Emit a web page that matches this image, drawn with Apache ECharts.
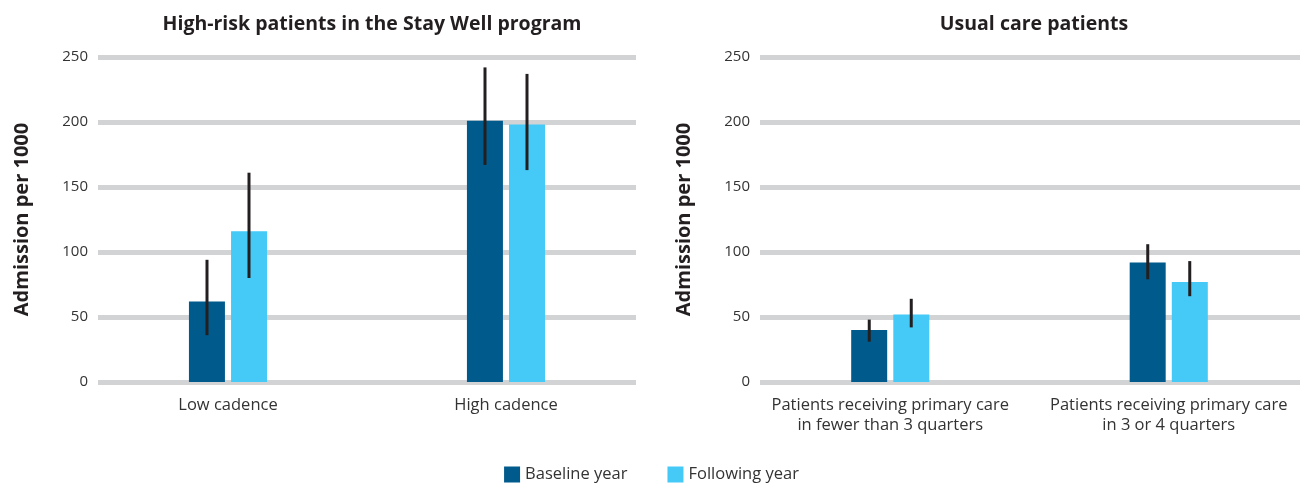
<!DOCTYPE html>
<html>
<head>
<meta charset="utf-8">
<script src="https://cdn.jsdelivr.net/npm/echarts@6/dist/echarts.min.js"></script>
<style>
  html, body { margin: 0; padding: 0; background: #fff; }
  #main { width: 1303px; height: 486px; }
</style>
</head>
<body>
<div id="main"></div>
<script>
// --- data ---
var leftCats = ['Low cadence', 'High cadence'];
var leftBaseline = [62, 201];
var leftBaselineLow = [36, 167];
var leftBaselineHigh = [94, 242];
var leftFollowing = [116, 198];
var leftFollowingLow = [80, 163];
var leftFollowingHigh = [161, 237];

var rightCats = ['Patients receiving primary care\nin fewer than 3 quarters', 'Patients receiving primary care\nin 3 or 4 quarters'];
var rightBaseline = [40, 92];
var rightBaselineLow = [31, 79];
var rightBaselineHigh = [48, 106];
var rightFollowing = [52, 77];
var rightFollowingLow = [42, 66];
var rightFollowingHigh = [64, 93];

var yTicks = [0, 50, 100, 150, 200, 250];

var FONT = 'Open Sans';
var dark = '#005a8c';
var light = '#45c9f6';

function errData(lo, hi) {
	var out = [];
	for (var i = 0; i < lo.length; i++) {
		out.push([i, lo[i], hi[i]]);
	}
	return out;
}

// error bar drawn through the axis scale, shifted to sit on its bar
function errRender(offset) {
	return function (params, api) {
		var a = api.coord([api.value(0), api.value(1)]);
		var b = api.coord([api.value(0), api.value(2)]);
		return {
			type: 'line',
			shape: { x1: a[0] + offset, y1: a[1], x2: b[0] + offset, y2: b[1] },
			style: { stroke: '#231f20', lineWidth: 3 }
		};
	};
}

function barSeries(name, data, idx) {
	return {
		name: name,
		type: 'bar',
		xAxisIndex: idx,
		yAxisIndex: idx,
		barWidth: 36,
		barGap: '17%',
		itemStyle: { color: name == 'Baseline year' ? dark : light },
		data: data,
		z: 3
	};
}

function errSeries(lo, hi, idx, offset) {
	return {
		name: 'err',
		type: 'custom',
		xAxisIndex: idx,
		yAxisIndex: idx,
		renderItem: errRender(offset),
		encode: { x: 0, y: [1, 2] },
		data: errData(lo, hi),
		z: 5
	};
}

var yMin = yTicks[0], yMax = yTicks[yTicks.length - 1];

function deco(idx) {
	return {
		type: 'value', gridIndex: idx, min: yMin, max: yMax, interval: 50,
		name: 'Admission per 1000', nameLocation: 'middle', nameGap: 66,
		nameTextStyle: { fontFamily: FONT, fontSize: 20, fontWeight: 'bold', color: '#231f20' },
		axisLine: { show: false }, axisTick: { show: false },
		axisLabel: { margin: 10, fontFamily: FONT, fontSize: 15, color: '#333' },
		splitLine: { show: true, lineStyle: { color: '#d2d3d5', width: 5 } }
	};
}

// grids 0,1 hold the bars; grids 2,3 only draw the gridlines and labels
var option = {
	animation: false,
	title: [{
		text: 'High-risk patients in the Stay Well program',
		left: 367, top: 9, textAlign: 'center',
		textStyle: { fontFamily: FONT, fontSize: 19.5, fontWeight: 'bold', color: '#231f20' }
	}, {
		text: 'Usual care patients',
		left: 1029, top: 9, textAlign: 'center',
		textStyle: { fontFamily: FONT, fontSize: 19.5, fontWeight: 'bold', color: '#231f20' }
	}],
	legend: {
		data: ['Baseline year', 'Following year'],
		left: 'center',
		top: 461,
		icon: 'rect',
		itemWidth: 16,
		itemHeight: 16,
		itemGap: 40,
		textStyle: { fontFamily: FONT, fontSize: 16.5, color: '#333' }
	},
	grid: [
		{ left: 89, width: 556, top: 57, height: 325, outerBoundsMode: 'none' },
		{ left: 751, width: 557, top: 57, height: 325, outerBoundsMode: 'none' },
		{ left: 98, width: 538, top: 57, height: 325, outerBoundsMode: 'none' },
		{ left: 760, width: 540, top: 57, height: 325, outerBoundsMode: 'none' }
	],
	xAxis: [
		{
			type: 'category', gridIndex: 0, data: leftCats,
			axisLine: { show: false }, axisTick: { show: false },
			axisLabel: { margin: 13, fontFamily: FONT, fontSize: 16.5, color: '#333', lineHeight: 20 }
		},
		{
			type: 'category', gridIndex: 1, data: rightCats,
			axisLine: { show: false }, axisTick: { show: false },
			axisLabel: { margin: 13, fontFamily: FONT, fontSize: 16.5, color: '#333', lineHeight: 20, interval: 0 }
		},
		{ type: 'value', gridIndex: 2, show: false },
		{ type: 'value', gridIndex: 3, show: false }
	],
	yAxis: [
		{ type: 'value', gridIndex: 0, min: yMin, max: yMax, interval: 50, show: false },
		{ type: 'value', gridIndex: 1, min: yMin, max: yMax, interval: 50, show: false },
		deco(2),
		deco(3)
	],
	series: [
		barSeries('Baseline year', leftBaseline, 0),
		barSeries('Following year', leftFollowing, 0),
		errSeries(leftBaselineLow, leftBaselineHigh, 0, -21),
		errSeries(leftFollowingLow, leftFollowingHigh, 0, 21),
		barSeries('Baseline year', rightBaseline, 1),
		barSeries('Following year', rightFollowing, 1),
		errSeries(rightBaselineLow, rightBaselineHigh, 1, -21),
		errSeries(rightFollowingLow, rightFollowingHigh, 1, 21)
	]
};

echarts.init(document.getElementById('main')).setOption(option);
</script>
</body>
</html>
